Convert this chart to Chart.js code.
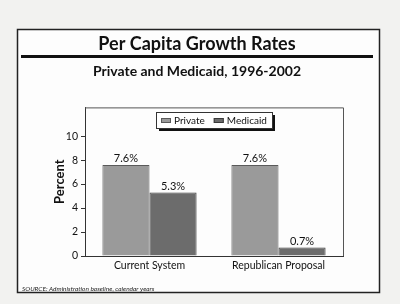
<!DOCTYPE html>
<html><head><meta charset="utf-8">
<script src="https://cdn.jsdelivr.net/npm/chart.js@4"></script>
<style>html,body{margin:0;padding:0;background:#f2f2f0;}#wrap{width:400px;height:304px;}</style>
</head><body><div id="wrap"><canvas id="c" width="400" height="304"></canvas></div>
<script>
const categories = ["Current System", "Republican Proposal"];
const privateValues = [7.6, 7.6];
const medicaidValues = [5.3, 0.7];
const valueLabels = [["7.6%", "7.6%"], ["5.3%", "0.7%"]];
const yTicks = [0, 2, 4, 6, 8, 10];
const FONT = "Lato, 'Open Sans', sans-serif";

const decor = {
  id: 'decor',
  beforeDraw(chart) {
    const ctx = chart.ctx;
    ctx.save();
    ctx.fillStyle = '#f2f2f0';
    ctx.fillRect(0, 0, 400, 304);
    ctx.fillStyle = '#fdfdfd';
    ctx.fillRect(17, 29, 363, 264);
    ctx.strokeStyle = '#222';
    ctx.lineWidth = 1.5;
    ctx.strokeRect(17.5, 29.5, 362, 263);
    ctx.fillStyle = '#111';
    ctx.fillRect(21, 55, 352, 3);
    ctx.fillStyle = '#222';
    ctx.font = "italic 6.5px " + FONT;
    ctx.textBaseline = 'middle';
    ctx.fillText("SOURCE: Administration baseline, calendar years", 22, 289);
    ctx.restore();
  },
  afterDatasetsDraw(chart) {
    const ctx = chart.ctx;
    const a = chart.chartArea;
    ctx.save();
    ctx.strokeStyle = '#555';
    ctx.lineWidth = 1;
    ctx.beginPath();
    ctx.moveTo(a.left, a.top + 0.5);
    ctx.lineTo(a.right + 0.5, a.top + 0.5);
    ctx.lineTo(a.right + 0.5, a.bottom);
    ctx.stroke();
    // value labels
    ctx.fillStyle = '#111';
    ctx.font = "11px " + FONT;
    ctx.textAlign = 'center';
    ctx.textBaseline = 'bottom';
    chart.data.datasets.forEach((ds, di) => {
      chart.getDatasetMeta(di).data.forEach((bar, i) => {
        ctx.fillText(valueLabels[di][i], bar.x, bar.y - 1);
      });
    });
    // legend box with shadow
    const ds = chart.data.datasets;
    ctx.font = "10px " + FONT;
    const sw = 10, gapT = 3, gapItem = 9, pad = 5;
    let w = pad * 2;
    ds.forEach((d, i) => { w += sw + gapT + ctx.measureText(d.label).width + (i ? gapItem : 0); });
    w = Math.round(w);
    const h = 16, cx = (a.left + a.right) / 2;
    const x0 = Math.round(cx - w / 2), y0 = Math.round(a.top + 5);
    ctx.fillStyle = '#111';
    ctx.fillRect(x0 + 3, y0 + 3, w, h);
    ctx.fillStyle = '#fff';
    ctx.fillRect(x0, y0, w, h);
    ctx.strokeStyle = '#333';
    ctx.strokeRect(x0 + 0.5, y0 + 0.5, w, h);
    ctx.textAlign = 'left';
    ctx.textBaseline = 'middle';
    let x = x0 + pad;
    const ym = y0 + h / 2 + 0.5;
    ds.forEach((d, i) => {
      ctx.fillStyle = d.backgroundColor;
      ctx.fillRect(x, ym - 2.5, sw, 5);
      ctx.strokeStyle = d.borderColor;
      ctx.strokeRect(x + 0.5, ym - 2, sw - 1, 4);
      ctx.fillStyle = '#111';
      ctx.fillText(d.label, x + sw + gapT, ym);
      x += sw + gapT + ctx.measureText(d.label).width + gapItem;
    });
    ctx.restore();
  }
};

new Chart(document.getElementById('c'), {
  type: 'bar',
  data: {
    labels: categories,
    datasets: [
      { label: 'Private', data: privateValues, backgroundColor: '#9a9a9a', borderColor: '#5a5a5a', borderWidth: 1 },
      { label: 'Medicaid', data: medicaidValues, backgroundColor: '#6c6c6c', borderColor: '#3a3a3a', borderWidth: 1 }
    ]
  },
  options: {
    responsive: false,
    animation: false,
    devicePixelRatio: 1,
    layout: { padding: { left: 21, right: 27, top: 0, bottom: 28 } },
    datasets: { bar: { categoryPercentage: 0.73, barPercentage: 1 } },
    plugins: {
      title: { display: true, text: 'Per Capita Growth Rates', color: '#111',
        font: { family: FONT, size: 18, weight: 'bold' }, padding: { top: 33, bottom: 7 } },
      subtitle: { display: true, text: 'Private and Medicaid, 1996-2002', color: '#111',
        font: { family: FONT, size: 14, weight: 'bold' }, padding: { top: 1, bottom: 28 } },
      legend: { display: false },
      tooltip: { enabled: false }
    },
    scales: {
      x: {
        grid: { display: false, drawTicks: false, tickLength: 0 },
        border: { color: '#333', width: 1 },
        ticks: { color: '#111', font: { family: FONT, size: 10.5 }, padding: 3 },
        afterFit(s) { s.height = 20; }
      },
      y: {
        min: 0, max: 12.4,
        grid: { drawOnChartArea: false, tickLength: 4, color: '#333' },
        border: { color: '#333', width: 1 },
        ticks: { stepSize: 2, color: '#111', font: { family: FONT, size: 10.5 }, padding: 3 },
        afterBuildTicks(s) { s.ticks = yTicks.map(v => ({ value: v })); },
        title: { display: true, text: 'Percent', color: '#111', font: { family: FONT, size: 13, weight: 'bold' }, padding: { top: 31, bottom: 0 } },
        afterFit(s) { s.width = 64; }
      },
      y2: {
        position: 'right', display: true, min: 0, max: 12.4,
        grid: { display: false }, border: { display: false }, ticks: { display: false },
        afterFit(s) { s.width = 30; }
      }
    }
  },
  plugins: [decor]
});
</script></body></html>
